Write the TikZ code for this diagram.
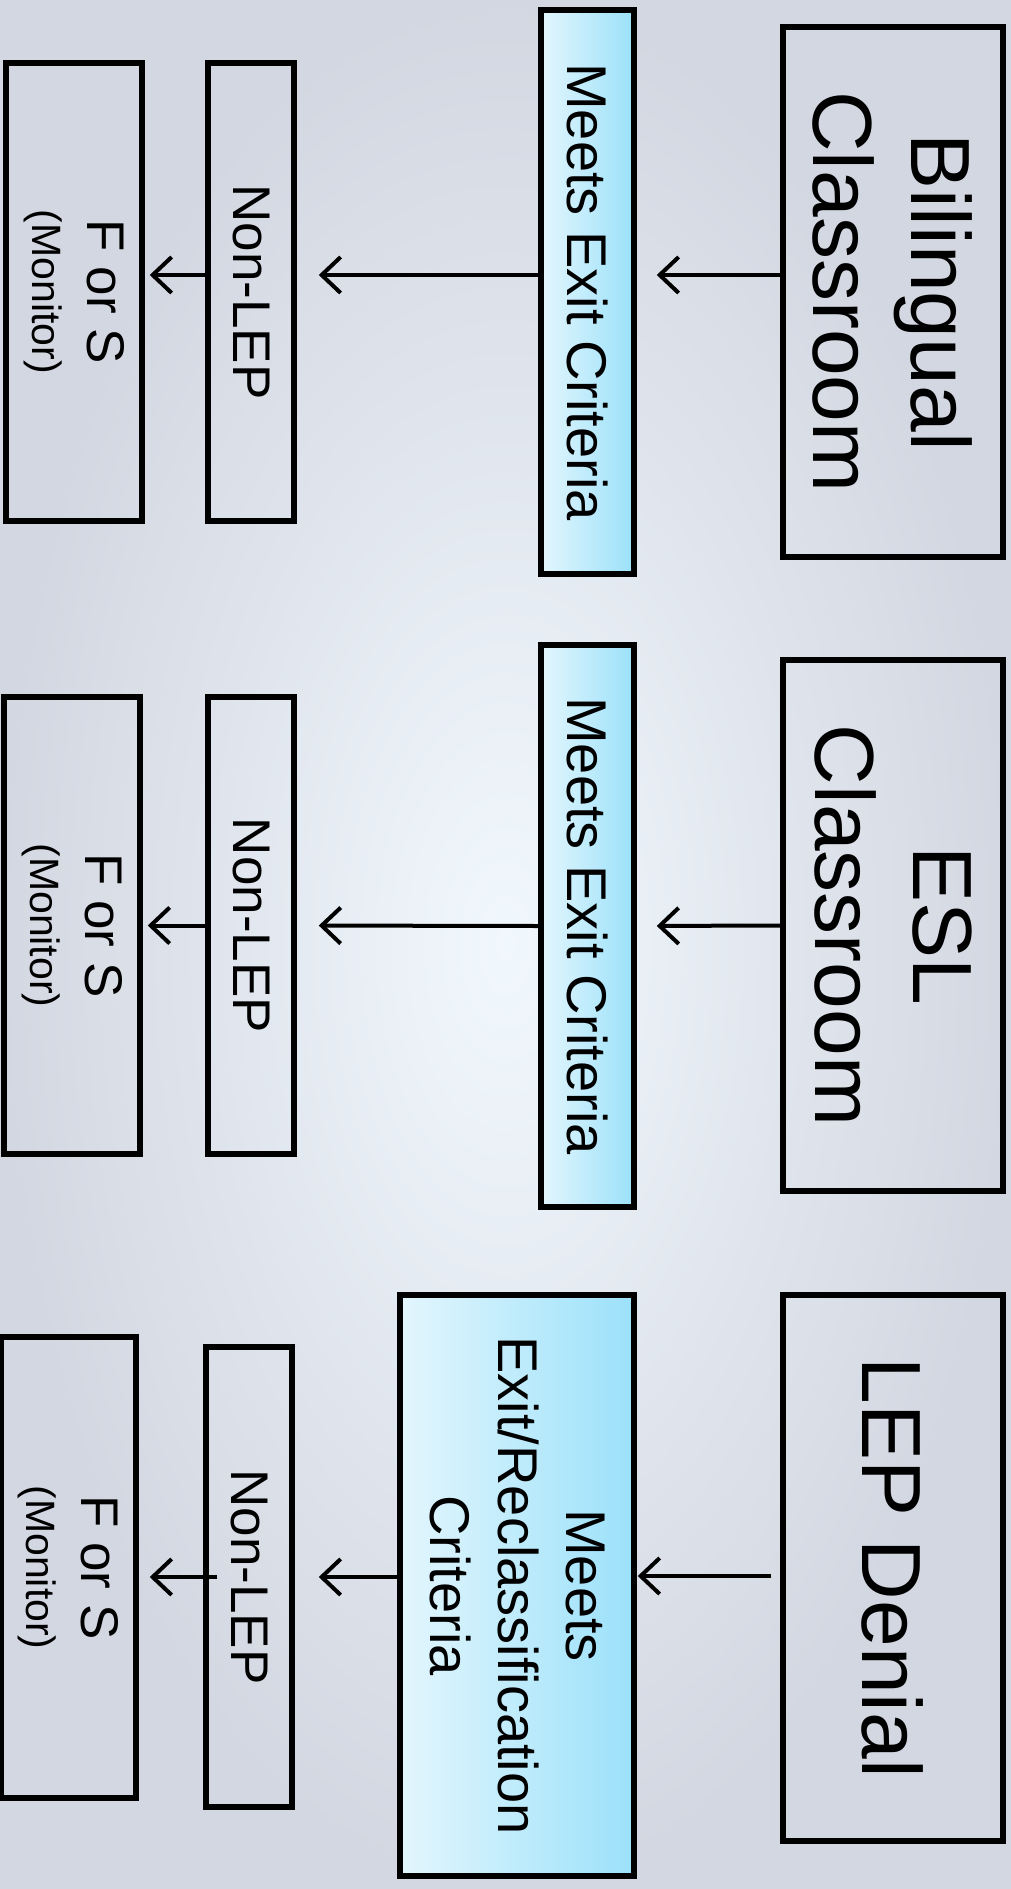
\documentclass[tikz,border=0pt]{standalone}
\usepackage{fontspec}
\setmainfont{Liberation Sans}
\usetikzlibrary{arrows.meta}
\definecolor{bgdark}{HTML}{D3D7E1}
\definecolor{bglight}{HTML}{F1F8FD}
\definecolor{cyandark}{HTML}{9BE1FA}
\definecolor{cyanlight}{HTML}{E3F6FD}

\begin{document}
\begin{tikzpicture}[x=1pt, y=1pt,
  box/.style={draw, line width=5.5pt, rotate=-90, inner sep=0pt, align=center},
  big/.style={box, font=\fontsize{84}{98}\selectfont},
  crit/.style={box, left color=cyanlight, right color=cyandark, font=\fontsize{56}{68}\selectfont},
  small/.style={box, font=\fontsize{53}{55}\selectfont},
  arr/.style={line width=4pt, -{Straight Barb[length=19pt, width=36pt]}}]

\useasboundingbox (0,0) rectangle (1011,-1889);
\shade[inner color=bglight, outer color=bgdark] (0,0) rectangle (1011,-1889);

% bilingual
\node[big, minimum width=530, minimum height=220] (bil) at (893,-292) {Bilingual\\Classroom};
\node[crit, minimum width=564, minimum height=93] (mec1) at (587.5,-292) {Meets Exit Criteria};
\node[small, minimum width=458, minimum height=86] (nl1) at (251,-292) {Non-LEP};
\node[small, minimum width=458, minimum height=136] (fs1) at (74,-292) {F or S\\{\fontsize{41}{48}\selectfont(Monitor)}};

% esl
\node[big, minimum width=531, minimum height=220] (esl) at (893,-925.5) {ESL\\Classroom};
\node[crit, minimum width=562, minimum height=93] (mec2) at (587.5,-926) {Meets Exit Criteria};
\node[small, minimum width=457, minimum height=86] (nl2) at (251,-925.5) {Non-LEP};
\node[small, minimum width=457, minimum height=136] (fs2) at (72,-925.5) {F or S\\{\fontsize{41}{48}\selectfont(Monitor)}};

% lep denial
\node[big, minimum width=546, minimum height=220] (lep) at (893,-1568) {LEP Denial};
\node[crit, minimum width=581, minimum height=234] (mrc) at (517,-1585.5) {Meets\\Exit/Reclassification\\Criteria};
\node[small, minimum width=460, minimum height=86] (nl3) at (249,-1577) {Non-LEP};
\node[small, minimum width=461, minimum height=135] (fs3) at (68.5,-1567.5) {F or S\\{\fontsize{41}{48}\selectfont(Monitor)}};

\draw[arr, shorten >=20] ([yshift=17]bil.south) -- ([yshift=17]mec1.north);
\draw[arr, shorten >=22] ([yshift=17]mec1.south) -- ([yshift=17]nl1.north);
\draw[arr, shorten >=5] ([yshift=17]nl1.south) -- ([yshift=17]fs1.north);

\draw[arr, shorten >=20] (esl.south) -- (mec2.north);
\draw[arr, shorten >=22] (mec2.south) -- (nl2.north);
\draw[arr, shorten >=5] (nl2.south) -- (fs2.north);

\draw[arr, shorten <=9, shorten >=1] ([yshift=-8]lep.south) -- ([yshift=-8]lep.south -| mrc.north);
\draw[arr, shorten >=24] ([yshift=8.5]mrc.south) -- ([yshift=8.5]mrc.south -| nl3.north);
\draw[arr, shorten <=-14, shorten >=11] (nl3.south) -- (nl3.south -| fs3.north);

\end{tikzpicture}
\end{document}
